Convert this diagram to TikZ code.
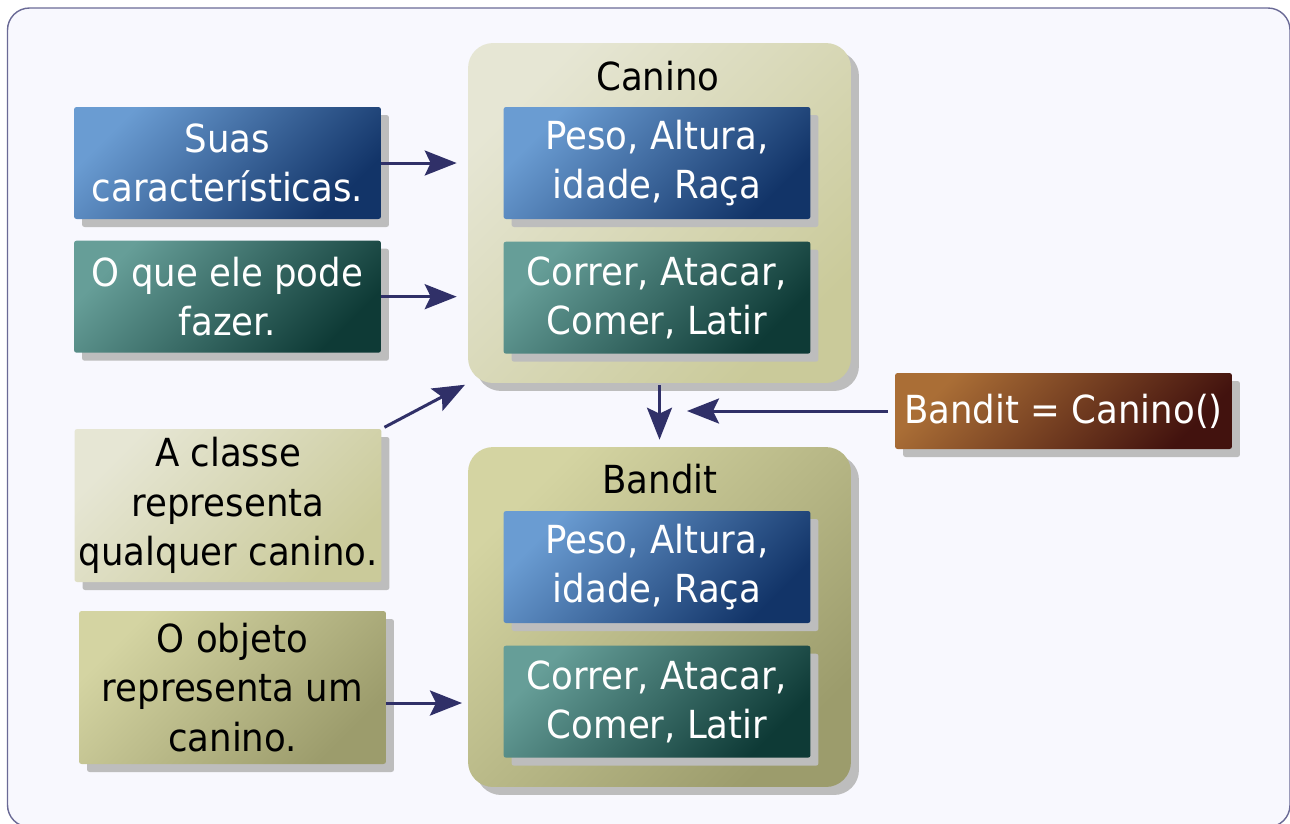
\documentclass[tikz,border=0pt]{standalone}
\usepackage{fontspec}
\setmainfont{DejaVu Sans}[FakeStretch=0.92]
\usepackage{tikz}
\usetikzlibrary{shapes, positioning, calc, shadows, arrows.meta}
\definecolor{framefill}{RGB}{248,248,254}
\definecolor{frameline}{RGB}{106,106,150}
\definecolor{arrowcol}{RGB}{48,48,104}
\definecolor{bluelight}{RGB}{106,156,210}
\definecolor{bluedark}{RGB}{18,52,104}
\definecolor{teallight}{RGB}{102,158,152}
\definecolor{tealdark}{RGB}{14,58,54}
\definecolor{khakilight}{RGB}{230,230,212}
\definecolor{khakidark}{RGB}{202,202,154}
\definecolor{olivelight}{RGB}{212,212,162}
\definecolor{olivedark}{RGB}{156,156,108}
\definecolor{brownlight}{RGB}{170,110,54}
\definecolor{browndark}{RGB}{66,18,14}
\colorlet{shadowgray}{black!26}

\begin{document}
\begin{tikzpicture}[x=0.02cm, y=-0.02cm,
  grad/.style 2 args={top color=#1, 
      bottom color=#2, 
      shading angle=45},
  box/.style={rectangle, 
      rounded corners=0.05cm, 
      minimum width=6.14cm, 
      minimum height=2.24cm, 
      inner sep=0pt, 
      align=center, 
      font=\fontsize{22}{28}\selectfont, 
      drop shadow={shadow xshift=0.16cm, shadow yshift=-0.16cm, 
        fill=shadowgray, opacity=1}},
  classbox/.style={rectangle, 
      rounded corners=0.5cm, 
      minimum width=7.66cm, 
      minimum height=6.8cm, 
      drop shadow={shadow xshift=0.16cm, shadow yshift=-0.16cm, 
        fill=shadowgray, opacity=1}},
  title/.style={anchor=base, 
      font=\fontsize{22}{28}\selectfont},
  link/.style={-{Stealth[length=0.64cm, width=0.5cm, inset=0.12cm]}, 
      line width=0.06cm, 
      draw=arrowcol}]

  \useasboundingbox (0,0) rectangle (1290,823);
  \draw[rounded corners=0.44cm, fill=framefill, draw=frameline, line width=0.8pt] 
    (7.5,8) rectangle (1290,827);

  % CLASS

  \node [classbox, grad={khakilight}{khakidark}] (canino) at (659.5,213) {};
  \node [title] (caninotitle) at (658,90) {Canino};

  \node [box, grad={bluelight}{bluedark}, text=white] (canattr) at (657,163) {
    Peso, Altura,\\idade, Raça
  };

  \node [box, grad={teallight}{tealdark}, text=white, 
    below=0.44cm of canattr] (canmeth) {
    Correr, Atacar,\\Comer, Latir
  };

  % OBJECT

  \node [classbox, grad={olivelight}{olivedark}] (bandit) at (659.5,617) {};
  \node [title] (bandittitle) at (660,493) {Bandit};

  \node [box, grad={bluelight}{bluedark}, text=white] (banattr) at (657,567) {
    Peso, Altura,\\idade, Raça
  };

  \node [box, grad={teallight}{tealdark}, text=white, 
    below=0.44cm of banattr] (banmeth) {
    Correr, Atacar,\\Comer, Latir
  };

  % NOTES

  \node [box, grad={bluelight}{bluedark}, text=white] (traits) at (227.5,163) {
    Suas\\características.
  };

  \node [box, grad={teallight}{tealdark}, text=white, 
    below=0.42cm of traits] (actions) {
    O que ele pode\\fazer.
  };

  \node [box, grad={khakilight}{khakidark}, 
    minimum height=3.06cm] (classnote) at (228,505.5) {
    A classe\\representa\\qualquer canino.
  };

  \node [box, grad={olivelight}{olivedark}, 
    minimum height=3.06cm] (objnote) at (232.5,687.5) {
    O objeto\\representa um\\canino.
  };

  \node [box, grad={brownlight}{browndark}, text=white, 
    minimum width=6.74cm, 
    minimum height=1.52cm] (create) at (1063.5,411) {Bandit = Canino()};

  % ARROWS

  \coordinate (createtip) at (687,411);
  \coordinate (objtip) at (462,703);

  \draw[link, shorten >=0.22cm] (traits.east) -- (traits.east -| canino.west);
  \draw[link, shorten >=0.22cm] (actions.east) -- (actions.east -| canino.west);
  \draw[link, shorten <=0.06cm, shorten >=0.06cm] (classnote.north east) -- (canino.south west);
  \draw[link] (objtip -| objnote.east) -- (objtip);
  \draw[link, shorten <=0.04cm, shorten >=0.14cm] (canino.south) -- (bandit.north);
  \draw[link, shorten <=0.14cm] (create.west) -- (createtip);

\end{tikzpicture}
\end{document}
